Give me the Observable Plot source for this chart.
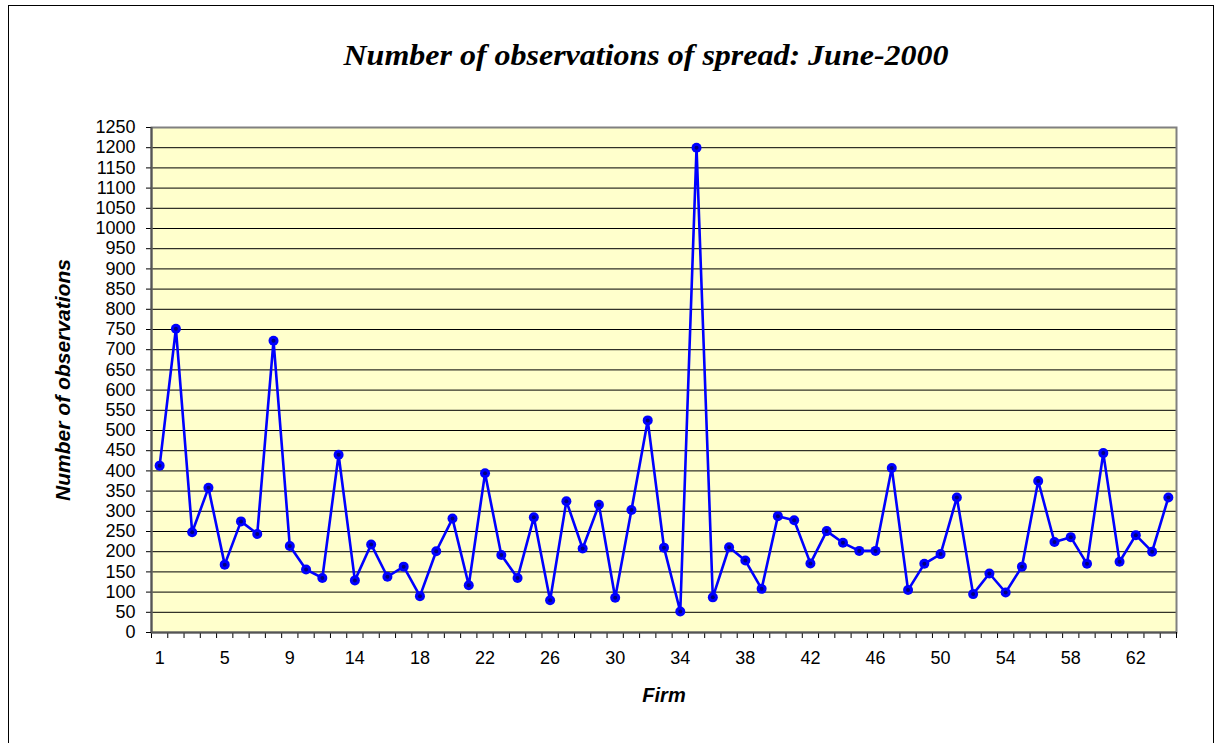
<!DOCTYPE html>
<html>
<head>
<meta charset="utf-8">
<script src="https://cdn.jsdelivr.net/npm/d3@7"></script>
<script src="https://cdn.jsdelivr.net/npm/@observablehq/plot@0.6"></script>
<style>
  html, body { margin: 0; padding: 0; background: #fff; }
  #wrap { position: relative; width: 1219px; height: 743px; overflow: hidden; }
  #border { position: absolute; left: 8px; top: 5px; width: 1204px; height: 740px; border: 1.5px solid #000; pointer-events: none; }
  #chart { position: absolute; left: 0; top: 0; }
</style>
</head>
<body>
<div id="wrap"><div id="chart"></div><div id="border"></div></div>
<script>
const title = "Number of observations of spread: June-2000";
const xLabel = "Firm";
const yLabel = "Number of observations";

// Firm identifiers (one id between 10 and 13 is absent in the source)
const firms = [1,2,3,4,5,6,7,8,9,10,11,13,14,15,16,17,18,19,20,21,22,23,24,25,26,27,28,29,30,31,32,33,34,35,36,37,38,39,40,41,42,43,44,45,46,47,48,49,50,51,52,53,54,55,56,57,58,59,60,61,62,63,64];
const observations = [413,752,248,358,168,275,244,722,214,156,135,440,129,218,138,163,90,201,282,117,394,192,135,285,80,325,208,316,86,303,525,210,52,1200,87,211,178,108,288,278,171,251,222,202,202,407,105,170,194,334,95,146,99,163,375,224,236,170,444,175,241,200,334];
const labelledFirms = [1,5,9,14,18,22,26,30,34,38,42,46,50,54,58,62];
const yTicks = d3.range(0, 1251, 50);

const data = firms.map((f, i) => ({pos: i + 1, firm: f, value: observations[i]}));
const labelPos = labelledFirms.map(f => firms.indexOf(f) + 1);
const boundaries = d3.range(0, firms.length + 1).map(i => i + 0.5);

const W = 1219, H = 743;
const mTop = 127, mBottom = 111, mLeft = 151, mRight = 43;

const plot = Plot.plot({
  width: W,
  height: H,
  marginTop: mTop,
  marginBottom: mBottom,
  marginLeft: mLeft,
  marginRight: mRight,
  style: {fontFamily: "'Liberation Sans', Arial, sans-serif", fontSize: "18px", color: "#000", background: "transparent"},
  x: {domain: [0.5, firms.length + 0.5]},
  y: {domain: [0, 1250]},
  marks: [
    Plot.frame({fill: "#ffffcc", stroke: null}),
    Plot.gridY(yTicks, {stroke: "#000", strokeOpacity: 1, strokeWidth: 1}),
    Plot.frame({stroke: "#808080", strokeWidth: 2}),
    Plot.axisY(yTicks, {tickSize: 5, tickPadding: 11, stroke: "#000", label: null, fontSize: 18, tickFormat: d => String(d)}),
    Plot.axisX(boundaries, {tickSize: 6, tickFormat: () => "", stroke: "#000", label: null}),
    Plot.axisX(labelPos, {tickSize: 0, tickPadding: 19, tickFormat: d => String(firms[d - 1]), label: null, fontSize: 18}),
    Plot.ruleY([0], {stroke: "#555", strokeWidth: 2}),
    Plot.ruleX([0.5], {stroke: "#555", strokeWidth: 2}),
    Plot.line(data, {x: "pos", y: "value", stroke: "#0000ff", strokeWidth: 2.6}),
    Plot.dot(data, {x: "pos", y: "value", r: 5, fill: "#0000ff", stroke: null}),
    Plot.dot(data, {x: "pos", y: "value", r: 2, fill: "#000080", stroke: null}),
    Plot.text([title], {frameAnchor: "top", lineAnchor: "middle", dx: -18, dy: -72, fontFamily: "'Liberation Serif', 'Times New Roman', serif", fontWeight: "bold", fontStyle: "italic", fontSize: 30, fill: "#000"}),
    Plot.text([yLabel], {frameAnchor: "left", textAnchor: "middle", lineAnchor: "middle", dx: -88, rotate: -90, fontWeight: "bold", fontStyle: "italic", fontSize: 20, fill: "#000"}),
    Plot.text([xLabel], {frameAnchor: "bottom", lineAnchor: "middle", dy: 63, fontWeight: "bold", fontStyle: "italic", fontSize: 20, fill: "#000"})
  ]
});
document.getElementById("chart").appendChild(plot);

// match the reference's text widths
d3.select(plot).selectAll("text").each(function() {
  if (this.textContent === title) {
    this.setAttribute("textLength", 605);
    this.setAttribute("lengthAdjust", "spacingAndGlyphs");
  }
  if (this.textContent === yLabel) {
    this.setAttribute("textLength", 242);
    this.setAttribute("lengthAdjust", "spacingAndGlyphs");
  }
});
</script>
</body>
</html>
